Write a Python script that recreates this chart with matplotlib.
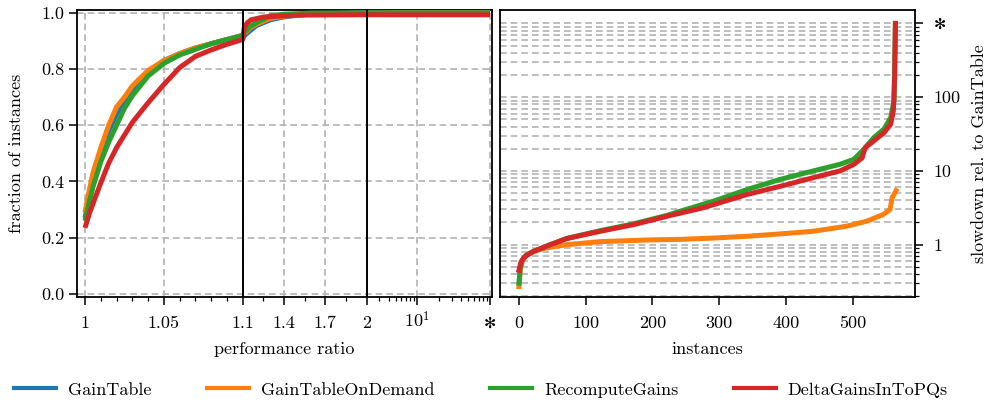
import numpy as np
import matplotlib
matplotlib.use("Agg")
import matplotlib.pyplot as plt
from matplotlib.lines import Line2D
from matplotlib.ticker import NullFormatter

plt.rcParams["font.family"] = ["cmr10", "DejaVu Sans"]
plt.rcParams["mathtext.fontset"] = "cm"
plt.rcParams["axes.unicode_minus"] = False
plt.rcParams["font.size"] = 13

names = ["GainTable", "GainTableOnDemand", "RecomputeGains", "DeltaGainsInToPQs"]
colors = ["#1f77b4", "#ff7f0e", "#2ca02c", "#d62728"]

# ---- performance profile: (performance ratio, fraction of instances) ----
gt_ratio = [1.0, 1.002, 1.005, 1.01, 1.015, 1.02, 1.025, 1.03, 1.04, 1.05, 1.06, 1.07,
            1.08, 1.09, 1.1, 1.12, 1.15, 1.2, 1.3, 1.4, 1.6, 2.0, 100]
gt_frac = [0.27, 0.33, 0.41, 0.50, 0.58, 0.64, 0.69, 0.73, 0.79, 0.83, 0.855, 0.875,
           0.89, 0.905, 0.912, 0.922, 0.935, 0.955, 0.975, 0.986, 0.996, 1.0, 1.0]

gtod_ratio = [1.0, 1.002, 1.005, 1.01, 1.015, 1.02, 1.025, 1.03, 1.04, 1.05, 1.06, 1.07,
              1.08, 1.09, 1.1, 1.12, 1.15, 1.2, 1.3, 1.4, 1.6, 2.0, 5.0, 100]
gtod_frac = [0.29, 0.35, 0.43, 0.52, 0.60, 0.665, 0.70, 0.74, 0.795, 0.83, 0.855, 0.875,
             0.89, 0.905, 0.92, 0.93, 0.945, 0.96, 0.98, 0.988, 0.996, 0.999, 1.0, 1.0]

rg_ratio = [1.0, 1.002, 1.005, 1.01, 1.015, 1.02, 1.025, 1.03, 1.04, 1.05, 1.06, 1.07,
            1.08, 1.09, 1.1, 1.12, 1.15, 1.2, 1.3, 1.4, 1.6, 2.0, 100]
rg_frac = [0.26, 0.31, 0.38, 0.47, 0.54, 0.60, 0.66, 0.705, 0.775, 0.82, 0.85, 0.87,
           0.89, 0.905, 0.92, 0.935, 0.95, 0.965, 0.99, 0.995, 0.999, 1.0, 1.0]

dg_ratio = [1.0, 1.003, 1.006, 1.01, 1.015, 1.02, 1.025, 1.03, 1.04, 1.05, 1.06, 1.07,
            1.08, 1.09, 1.1, 1.11, 1.13, 1.16, 1.25, 1.5, 2.0, 100]
dg_frac = [0.235, 0.29, 0.335, 0.395, 0.465, 0.52, 0.565, 0.61, 0.68, 0.745, 0.805, 0.845,
           0.868, 0.888, 0.905, 0.945, 0.963, 0.975, 0.985, 0.992, 0.993, 0.993]

# ---- sorted slowdown relative to GainTable: (instance, slowdown) ----
gtod_inst = [0, 2, 5, 10, 20, 40, 72, 122, 197, 242, 292, 342, 392, 441, 491, 521, 546,
             556, 559, 565]
gtod_slow = [0.27, 0.45, 0.6, 0.7, 0.8, 0.9, 1.0, 1.1, 1.16, 1.18, 1.23, 1.3, 1.4, 1.52,
             1.78, 2.08, 2.57, 3.0, 4.3, 5.4]

rg_inst = [0, 2, 5, 10, 22, 47, 72, 122, 172, 222, 242, 292, 342, 392, 441, 481, 502,
           517, 532, 547, 557, 562, 564]
rg_slow = [0.30, 0.5, 0.62, 0.71, 0.81, 1.0, 1.22, 1.55, 1.92, 2.5, 2.85, 3.9, 5.6, 7.7,
           10, 12.3, 14.4, 19.8, 28.5, 37, 53, 90, 1000]

dg_inst = [0, 3, 7, 12, 22, 47, 72, 122, 172, 222, 272, 292, 342, 392, 441, 481, 502,
           514, 519, 532, 547, 557, 561, 563, 564]
dg_slow = [0.45, 0.58, 0.66, 0.72, 0.81, 1.0, 1.21, 1.52, 1.87, 2.43, 3.1, 3.5, 4.8, 6.2,
           8.1, 10, 12.3, 15, 20.8, 25.7, 33, 43, 66, 200, 1000]

# tick labels
STAR = "\u273b"
pr_ticks = [1, 1.05, 1.1, 1.4, 1.7, 2, 10, 100]
pr_labels = ["1", "1.05", "1.1", "1.4", "1.7", "2", "$10^1$", STAR]
slow_ticks = [1, 10, 100, 1000]
slow_labels = ["1", "10", "100", STAR]
inst_ticks = [0, 100, 200, 300, 400, 500]

# piecewise x axis: linear [1,1.1], linear [1.1,2], log [2,100]
W1, W2, W3 = 157.7, 124.0, 123.3


def fwd(x):
    x = np.asarray(x, dtype=float)
    with np.errstate(all="ignore"):
        s1 = (x - 1.0) / 0.1 * W1
        s2 = W1 + (x - 1.1) / 0.9 * W2
        s3 = W1 + W2 + np.log10(np.maximum(x, 1e-12) / 2.0) / np.log10(50.0) * W3
    return np.where(x <= 1.1, s1, np.where(x <= 2.0, s2, s3))


def inv(y):
    y = np.asarray(y, dtype=float)
    with np.errstate(all="ignore"):
        x1 = 1.0 + y / W1 * 0.1
        x2 = 1.1 + (y - W1) / W2 * 0.9
        x3 = 2.0 * 10 ** np.clip((y - W1 - W2) / W3 * np.log10(50.0), -300, 300)
    return np.where(y <= W1, x1, np.where(y <= W1 + W2, x2, x3))


fig = plt.figure(figsize=(9.9, 4.04), dpi=100)
ax1 = fig.add_axes([0.0781, 0.2656, 0.4186, 0.7096])
ax2 = fig.add_axes([0.5051, 0.2656, 0.4191, 0.7096])

grid_kw = dict(color="#b3b3b3", linestyle=(0, (4, 2.4)), linewidth=1.2)
LW = 3.6

# ---- left: performance profile ----
ax1.set_xscale("function", functions=(fwd, inv))
for r, f, c in zip([gt_ratio, gtod_ratio, rg_ratio, dg_ratio],
                   [gt_frac, gtod_frac, rg_frac, dg_frac], colors):
    ax1.plot(r, f, color=c, lw=LW, solid_capstyle="butt", zorder=3)
ax1.axvline(1.1, color="black", lw=1.4, zorder=4)
ax1.axvline(2.0, color="black", lw=1.4, zorder=4)
ax1.set_xlim(0.99512, 105.6)
ax1.set_ylim(-0.01, 1.01)
ax1.set_xticks(pr_ticks)
ax1.set_xticklabels(pr_labels)
minor1 = [1.01, 1.02, 1.03, 1.04, 1.06, 1.07, 1.08, 1.09, 1.25, 1.55, 1.85,
          3, 4, 5, 6, 7, 8, 9, 20, 30, 40, 50, 60, 70, 80, 90]
ax1.set_xticks(minor1, minor=True)
ax1.xaxis.set_minor_formatter(NullFormatter())
ax1.set_yticks([0.0, 0.2, 0.4, 0.6, 0.8, 1.0])
ax1.set_yticklabels(["0.0", "0.2", "0.4", "0.6", "0.8", "1.0"])
ax1.grid(True, which="major", **grid_kw)
ax1.set_axisbelow(True)
ax1.set_xlabel("performance ratio")
ax1.set_ylabel("fraction of instances")

# ---- right: slowdown relative to GainTable ----
for xs, ys, c in zip([gtod_inst, rg_inst, dg_inst], [gtod_slow, rg_slow, dg_slow],
                     colors[1:]):
    ax2.plot(xs, ys, color=c, lw=LW, zorder=3)
ax2.set_yscale("log")
ax2.set_ylim(0.197, 1520)
ax2.set_xlim(-28.3, 593.3)
ax2.set_xticks(inst_ticks)
ax2.set_yticks(slow_ticks)
ax2.set_yticklabels(slow_labels)
minor2 = [m * d for d in (0.1, 1, 10, 100) for m in range(2, 10) if m * d > 0.19]
ax2.set_yticks(minor2, minor=True)
ax2.yaxis.set_minor_formatter(NullFormatter())
ax2.yaxis.tick_right()
ax2.yaxis.set_label_position("right")
ax2.grid(True, which="both", axis="y", **grid_kw)
ax2.set_axisbelow(True)
ax2.set_xlabel("instances")
ax2.set_ylabel("slowdown rel. to GainTable")

for ax in (ax1, ax2):
    for s in ax.spines.values():
        s.set_linewidth(1.3)
    ax.tick_params(which="major", length=5.5, width=1.1, labelsize=13)
    ax.tick_params(which="minor", length=2.6, width=0.9)
    # x tick labels share a common baseline
    ax.tick_params(axis="x", which="major", pad=16.7)
    for t in ax.xaxis.get_major_ticks():
        t.label1.set_verticalalignment("baseline")
    ax.xaxis.set_label_coords(0.5, -0.157)
ax2.tick_params(axis="y", which="major", pad=8)

# the timeout marker is drawn a little smaller than the digits
for lab in list(ax1.get_xticklabels()) + list(ax2.get_yticklabels()):
    if lab.get_text() == STAR:
        lab.set_fontsize(10.5)

ax1.yaxis.set_label_coords(-0.1286, 0.5)
ax2.yaxis.set_label_coords(1.1373, 0.5)

handles = [Line2D([], [], color=c, lw=3) for c in colors]
fig.legend(handles, names, loc="center", ncol=4, frameon=False,
           bbox_to_anchor=(0.4858, 0.035), handlelength=2.33, handletextpad=0.66,
           columnspacing=3.08, fontsize=13)

fig.savefig("out.png", dpi=100)
